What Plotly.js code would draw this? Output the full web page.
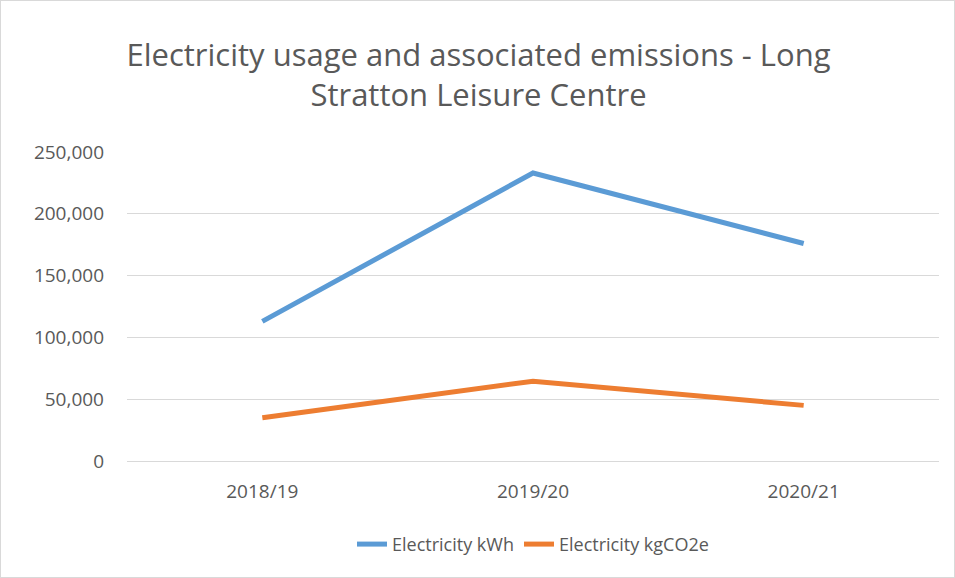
<!DOCTYPE html>
<html>
<head>
<meta charset="utf-8">
<script src="https://cdn.plot.ly/plotly-3.0.1.min.js"></script>
<style>
  body { margin: 0; background: #fff; }
  #myDiv { width: 955px; height: 578px; box-sizing: border-box; border: 1px solid #d9d9d9; }
</style>
</head>
<body>
<div id="myDiv"></div>
<script>
var years = ['2018/19', '2019/20', '2020/21'];
var kwh = [113000, 233000, 176000];
var co2 = [35000, 64600, 45000];

var trace1 = {
  x: years,
  y: kwh,
  name: 'Electricity kWh',
  type: 'scatter',
  mode: 'lines',
  line: { color: '#5b9bd5', width: 5 }
};

var trace2 = {
  x: years,
  y: co2,
  name: 'Electricity kgCO2e',
  type: 'scatter',
  mode: 'lines',
  line: { color: '#ed7d31', width: 5 }
};

var data = [trace1, trace2];

var layout = {
  width: 955,
  height: 578,
  title: {
    text: 'Electricity usage and associated emissions - Long<br>Stratton Leisure Centre',
    font: { size: 31, family: 'Open Sans, sans-serif', color: '#595959', lineposition: 'none' },
    x: 0.5,
    xanchor: 'center',
    yref: 'container',
    y: 0.888,
    yanchor: 'middle'
  },
  font: { family: 'Open Sans, sans-serif', size: 19, color: '#595959' },
  margin: { l: 126, r: 17, t: 151, b: 118 },
  showlegend: true,
  legend: {
    orientation: 'h',
    x: 0.5,
    xanchor: 'center',
    y: -0.21,
    yanchor: 'top',
    font: { size: 18, color: '#595959' }
  },
  xaxis: {
    type: 'category',
    range: [-0.5, 2.5],
    showgrid: false,
    showline: true,
    linecolor: '#d9d9d9',
    linewidth: 1,
    ticks: '',
    ticklabelstandoff: 13
  },
  yaxis: {
    range: [0, 250000],
    dtick: 50000,
    tickformat: ',d',
    showgrid: true,
    gridcolor: '#d9d9d9',
    zeroline: false,
    showline: false,
    ticks: '',
    ticklabelstandoff: 22
  },
  plot_bgcolor: '#fff',
  paper_bgcolor: 'rgba(0,0,0,0)'
};

Plotly.newPlot('myDiv', data, layout, { displayModeBar: false, staticPlot: true });
</script>
</body>
</html>
